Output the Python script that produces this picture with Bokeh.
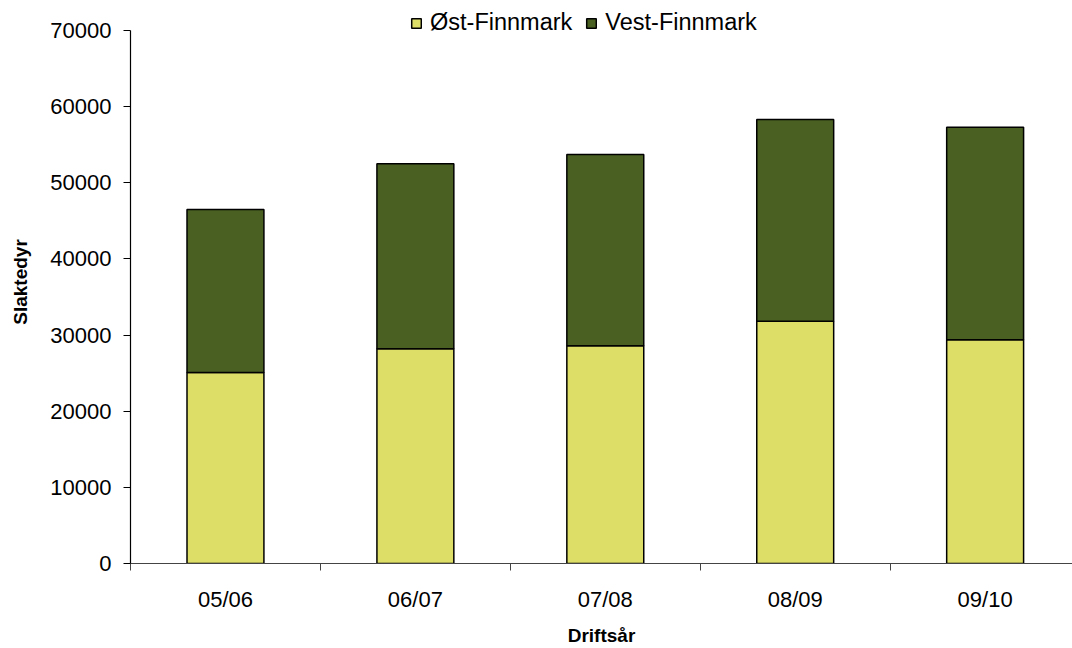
from bokeh.plotting import figure
from bokeh.models import (ColumnDataSource, Range1d, FixedTicker, Legend, LegendItem)
from bokeh.embed import file_html
from bokeh.resources import INLINE

# ---- data ----
seasons = ["05/06", "06/07", "07/08", "08/09", "09/10"]
ost_finnmark = [25100, 28200, 28600, 31800, 29400]
vest_finnmark = [21400, 24300, 25100, 26500, 27900]
y_ticks = [0, 10000, 20000, 30000, 40000, 50000, 60000, 70000]
y_max = 70000

FONT = "Liberation Sans"
C_OST = "#DDDE68"
C_VEST = "#4A6022"

xs = [i + 0.5 for i in range(len(seasons))]
source = ColumnDataSource(dict(x=xs, ost=ost_finnmark, vest=vest_finnmark))

# frame reaches the top of the figure so the legend (inside it) sits above the axis top
y_end = y_max * 563 / 533

p = figure(width=1072, height=648, output_backend="svg", toolbar_location=None,
           x_range=Range1d(0, 4.96), y_range=Range1d(0, y_end),
           min_border_left=130, min_border_right=0, min_border_top=0, min_border_bottom=85)
p.outline_line_color = None
p.grid.visible = False
p.background_fill_color = "white"
p.border_fill_color = "white"

rs = p.vbar_stack(["ost", "vest"], x="x", width=0.405, source=source,
                  color=[C_OST, C_VEST], line_color="black", line_width=1.5)

# x axis: labels at category centres, ticks between categories
xa = p.xaxis[0]
xa.ticker = FixedTicker(ticks=xs, minor_ticks=list(range(len(seasons) + 1)))
xa.major_label_overrides = {x: s for x, s in zip(xs, seasons)}
xa.major_tick_line_color = None
xa.minor_tick_line_color = "#444444"
xa.minor_tick_out = 7
xa.minor_tick_in = 0
xa.axis_line_color = "#444444"
xa.axis_line_width = 1.2
xa.major_label_text_font = FONT
xa.major_label_text_font_size = "22px"
xa.major_label_text_color = "black"
xa.major_label_standoff = 16
xa.axis_label = "Driftsår"
xa.axis_label_text_font = FONT
xa.axis_label_text_font_style = "bold"
xa.axis_label_text_font_size = "19px"
xa.axis_label_text_color = "black"
xa.axis_label_standoff = 10

ya = p.yaxis[0]
ya.ticker = FixedTicker(ticks=y_ticks)
ya.bounds = (0, y_max)
ya.minor_tick_line_color = None
ya.major_tick_out = 7
ya.major_tick_in = 0
ya.axis_line_color = "black"
ya.axis_line_width = 1.2
ya.major_tick_line_color = "black"
ya.major_label_text_font = FONT
ya.major_label_text_font_size = "22px"
ya.major_label_text_color = "black"
ya.major_label_standoff = 12
ya.axis_label = "Slaktedyr"
ya.axis_label_text_font = FONT
ya.axis_label_text_font_style = "bold"
ya.axis_label_text_font_size = "19px"
ya.axis_label_text_color = "black"
ya.axis_label_standoff = 16

legend = Legend(items=[LegendItem(label="Øst-Finnmark", renderers=[rs[0]]),
                       LegendItem(label="Vest-Finnmark", renderers=[rs[1]])],
                orientation="horizontal", location=(280, 527),
                label_text_font=FONT, label_text_font_size="23.5px",
                label_text_color="black",
                glyph_width=12, glyph_height=12, label_height=18, label_standoff=8,
                spacing=13, padding=2, margin=0, border_line_color=None,
                background_fill_alpha=0)
p.add_layout(legend, "center")

open("out.html", "w").write(file_html(p, INLINE))
